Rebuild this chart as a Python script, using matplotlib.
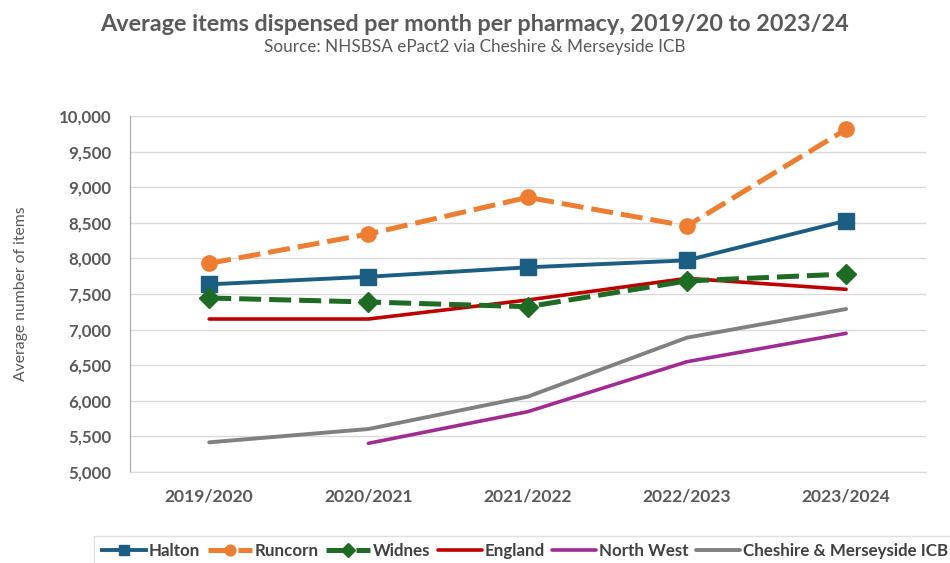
import matplotlib
matplotlib.use("Agg")
import matplotlib.pyplot as plt
from matplotlib.ticker import FuncFormatter, MultipleLocator

plt.rcParams['font.family'] = ['Lato', 'DejaVu Sans']

years = ["2019/2020", "2020/2021", "2021/2022", "2022/2023", "2023/2024"]
halton = [7636, 7743, 7875, 7973, 8530]
runcorn = [7931, 8343, 8858, 8455, 9813]
widnes = [7444, 7388, 7322, 7683, 7781]
england = [7149, 7149, 7416, 7720, 7566]
north_west = [None, 5403, 5847, 6549, 6948]
cheshire = [5417, 5604, 6058, 6887, 7289]

TXT = "#595959"
fig = plt.figure(figsize=(9.5, 5.63), dpi=100)
ax = fig.add_axes([0.1364, 0.1616, 0.838, 0.6323])

x = list(range(len(years)))
nw_x = [i for i, v in enumerate(north_west) if v is not None]
nw_y = [v for v in north_west if v is not None]

dash = (0, (4.4, 1.6))
ax.plot(x, halton, color="#1B5E82", lw=2.8, marker="s", ms=11, label="Halton", zorder=5)
ax.plot(x, runcorn, color="#ED7D31", lw=3.6, ls=dash, marker="o", ms=11, label="Runcorn", zorder=5)
ax.plot(x, widnes, color="#1E6B24", lw=3.6, ls=dash, marker="D", ms=10.5, label="Widnes", zorder=5)
ax.plot(x, england, color="#C00000", lw=2.6, label="England", solid_capstyle="round", zorder=4)
ax.plot(nw_x, nw_y, color="#A02B93", lw=2.6, label="North West", solid_capstyle="round", zorder=4)
ax.plot(x, cheshire, color="#808080", lw=2.8, label="Cheshire & Merseyside ICB", solid_capstyle="round", zorder=4)

ax.set_xlim(-0.5, 4.5)
ax.set_ylim(5000, 10000)
ax.yaxis.set_major_locator(MultipleLocator(500))
ax.yaxis.set_major_formatter(FuncFormatter(lambda v, p: f"{int(v):,}"))
ax.set_xticks(x)
ax.set_xticklabels(years)
ax.grid(axis="y", color="#D9D9D9", lw=1)
ax.set_axisbelow(True)
for s in ["top", "right"]:
    ax.spines[s].set_visible(False)
ax.spines["left"].set_color("#A6A6A6")
ax.spines["bottom"].set_color("#D9D9D9")
ax.tick_params(axis="y", length=0, colors=TXT, labelsize=12.2, pad=13)
ax.tick_params(axis="x", length=0, colors=TXT, labelsize=12.6, pad=12)
for lab in ax.get_xticklabels() + ax.get_yticklabels():
    lab.set_fontweight("bold")
ax.set_ylabel("Average number of items", color=TXT, fontsize=11.3, labelpad=22)

fig.text(0.5, 0.957, "Average items dispensed per month per pharmacy, 2019/20 to 2023/24",
         ha="center", va="center", fontsize=16.8, fontweight="bold", color=TXT)
fig.text(0.5, 0.917, "Source: NHSBSA ePact2 via Cheshire & Merseyside ICB",
         ha="center", va="center", fontsize=12.3, color=TXT)

leg = fig.legend(loc="lower left", bbox_to_anchor=(86/950, -0.022), ncol=6, frameon=True,
                 fontsize=12.2, handlelength=2.6, handletextpad=0.15, columnspacing=0.45,
                 borderpad=0.45, fancybox=False, edgecolor="#D9D9D9", markerscale=0.7)
for t in leg.get_texts():
    t.set_color("#404040")
    t.set_fontweight("bold")

fig.savefig("out.png", dpi=100)
